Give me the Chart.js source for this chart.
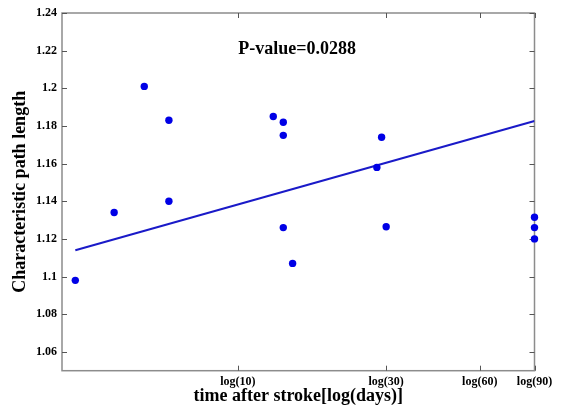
<!DOCTYPE html>
<html>
<head>
<meta charset="utf-8">
<script src="https://cdn.jsdelivr.net/npm/chart.js@4"></script>
<style>
  body { margin: 0; background: #fff; }
  #wrap { width: 561px; height: 410px; }
</style>
</head>
<body>
<div id="wrap"><canvas id="myChart" width="561" height="410"></canvas></div>
<script>
// days after stroke (x) and characteristic path length (y)
const days = [3, 4, 5, 6, 6, 13, 14, 14, 14, 15, 28, 29, 30, 90, 90, 90];
const pathLength = [1.098, 1.134, 1.201, 1.183, 1.140, 1.185, 1.182, 1.175, 1.126, 1.107,
                    1.158, 1.174, 1.1265, 1.1315, 1.126, 1.120];

// fitted regression line at its two ends
const fitDays = [3, 90];
const fitValues = [1.114, 1.1826];

const xTicks = [10, 30, 60, 90];
const yTicks = [1.06, 1.08, 1.1, 1.12, 1.14, 1.16, 1.18, 1.2, 1.22, 1.24];

const pValueText = 'P-value=0.0288';

const serif = "'Liberation Serif', 'Times New Roman', serif";

// box round the plot with small inward ticks (matlab style)
const frameTicks = {
  id: 'frameTicks',
  beforeDatasetsDraw(chart) {
    const ctx = chart.ctx;
    const a = chart.chartArea;
    const xs = chart.scales.x;
    const ys = chart.scales.y;
    ctx.save();
    ctx.strokeStyle = '#8c8c8c';
    ctx.lineWidth = 1.5;
    ctx.strokeRect(a.left, a.top, a.right - a.left, a.bottom - a.top);
    ctx.strokeStyle = '#555';
    ctx.lineWidth = 1;
    ctx.beginPath();
    xTicks.forEach(v => {
      const px = Math.round(xs.getPixelForValue(v)) + 0.5;
      ctx.moveTo(px, a.bottom); ctx.lineTo(px, a.bottom - 5);
      ctx.moveTo(px, a.top); ctx.lineTo(px, a.top + 5);
    });
    yTicks.forEach(v => {
      const py = Math.round(ys.getPixelForValue(v)) + 0.5;
      ctx.moveTo(a.left, py); ctx.lineTo(a.left + 5, py);
      ctx.moveTo(a.right, py); ctx.lineTo(a.right - 5, py);
    });
    ctx.stroke();

    // p-value label
    ctx.fillStyle = '#000';
    ctx.font = 'bold 18px ' + serif;
    ctx.textAlign = 'center';
    ctx.textBaseline = 'middle';
    ctx.fillText(pValueText, xs.getPixelForValue(15.5), ys.getPixelForValue(1.2205));
    ctx.restore();
  }
};

const points = days.map((d, i) => ({x: d, y: pathLength[i]}));
const fit = fitDays.map((d, i) => ({x: d, y: fitValues[i]}));

const ctx = document.getElementById('myChart');
const myChart = new Chart(ctx, {
  type: 'scatter',
  data: {
    datasets: [{
      label: 'data',
      data: points,
      backgroundColor: '#0000e6',
      borderColor: '#0000e6',
      pointRadius: 3.7,
      pointBorderWidth: 0,
      clip: false,
      order: 1
    }, {
      label: 'fit',
      type: 'line',
      data: fit,
      borderColor: '#1a1ac8',
      borderWidth: 2,
      pointRadius: 0,
      fill: false,
      order: 2
    }]
  },
  options: {
    responsive: false,
    animation: false,
    layout: { padding: { top: 13, right: 26.5, bottom: 0, left: 0 } },
    plugins: {
      legend: { display: false },
      tooltip: { enabled: false }
    },
    scales: {
      x: {
        type: 'logarithmic',
        min: Math.E,
        max: 90,
        grid: { display: false, drawTicks: false },
        border: { display: false },
        afterBuildTicks: s => { s.ticks = xTicks.map(v => ({value: v})); },
        afterFit: s => { s.height = 39.3; },
        ticks: {
          padding: 4,
          maxRotation: 0,
          autoSkip: false,
          color: '#000',
          font: { family: serif, size: 12, weight: 'bold' },
          callback: v => 'log(' + v + ')'
        },
        title: {
          display: true,
          text: 'time after stroke[log(days)]',
          color: '#000',
          padding: { top: 0, bottom: 2.5 },
          font: { family: serif, size: 18, weight: 'bold' }
        }
      },
      y: {
        min: 1.05,
        max: 1.24,
        grid: { display: false, drawTicks: false },
        border: { display: false },
        afterBuildTicks: s => { s.ticks = yTicks.map(v => ({value: v})); },
        afterFit: s => { s.width = 62; },
        ticks: {
          padding: 5,
          color: '#000',
          font: { family: serif, size: 12, weight: 'bold' },
          callback: v => String(+v.toFixed(2))
        },
        title: {
          display: true,
          text: 'Characteristic path length',
          color: '#000',
          padding: { top: 9.7, bottom: 0 },
          font: { family: serif, size: 18, weight: 'bold' }
        }
      }
    }
  },
  plugins: [frameTicks]
});
</script>
</body>
</html>
